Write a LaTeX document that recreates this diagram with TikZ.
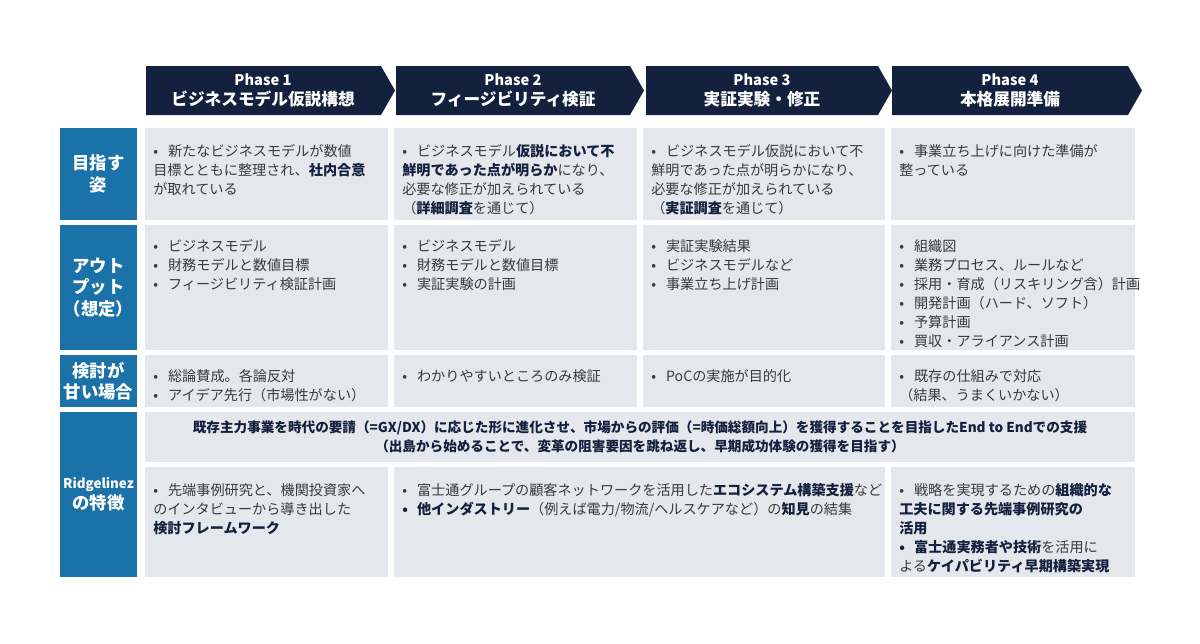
\documentclass[tikz,border=0pt]{standalone}
\usepackage{fontspec}
\setmainfont{Noto Sans CJK JP}
\definecolor{navy}{HTML}{13213F}
\definecolor{lblue}{HTML}{1A72A8}
\definecolor{cellg}{HTML}{E4E7EB}
\definecolor{txtc}{HTML}{3A3A3A}
\newcommand\B[1]{{\bfseries\color{navy}#1}}
\newcommand\itm{\par\noindent\hangindent=1.05em\hangafter=1\makebox[1.05em][l]{•}}
\newcommand\itmb{\par\noindent\hangindent=1.05em\hangafter=1\makebox[1.05em][l]{\color{navy}\textbf{•}}}
\begin{document}
\begin{tikzpicture}[x=0.75pt,y=-0.75pt,
  cellbox/.style={fill=cellg,draw=none},
  lblbox/.style={fill=lblue,draw=none},
  lbl/.style={text=white,font=\bfseries\fontsize{13}{16}\selectfont,align=center},
  txt/.style={anchor=north west,text=txtc,font=\fontsize{10.6}{14.3}\selectfont,text width=270pt,align=left,inner sep=0pt},
  hdr/.style={text=white,font=\bfseries\fontsize{12.5}{15.5}\selectfont,align=center}]
\useasboundingbox (0,0) rectangle (1200,643);
% headers
\foreach \xs/\xe/\xt [count=\i] in {146/381/395,396/630/644,646/878/892,892/1128/1142}{
  \fill[navy] (\xs,66) -- (\xe,66) -- (\xt,90.5) -- (\xe,115) -- (\xs,115) -- cycle;
}
\node[hdr] (h1) at (263,90.5) {{\fontsize{11}{14}\selectfont Phase 1}\\ビジネスモデル仮説構想};
\node[hdr] (h2) at (513,90.5) {{\fontsize{11}{14}\selectfont Phase 2}\\フィージビリティ検証};
\node[hdr] (h3) at (762,90.5) {{\fontsize{11}{14}\selectfont Phase 3}\\実証実験・修正};
\node[hdr] (h4) at (1010,90.5) {{\fontsize{11}{14}\selectfont Phase 4}\\本格展開準備};
% label column
\fill[lblue] (60,128) rectangle (137,220);
\fill[lblue] (60,225) rectangle (137,350);
\fill[lblue] (60,355) rectangle (137,407);
\fill[lblue] (60,412) rectangle (137,577);
\node[lbl] (l1) at (98.5,174) {目指す\\姿};
\node[lbl] (l2) at (98.5,287.5) {アウト\\プット\\（想定）};
\node[lbl] (l3) at (98.5,381) {検討が\\甘い場合};
\node[lbl] (l4) at (98.5,494.5) {{\fontsize{10}{13}\selectfont Ridgelinez}\\の特徴};
% cells
\foreach \ya/\yb in {128/220,225/350,355/407}{
  \foreach \xa/\xb in {145/388,394/637,643/885,891/1135}{
    \fill[cellg] (\xa,\ya) rectangle (\xb,\yb);
  }
}
\fill[cellg] (145,412) rectangle (1135,462);
\fill[cellg] (145,467) rectangle (388,577);
\fill[cellg] (394,467) rectangle (885,577);
\fill[cellg] (891,467) rectangle (1135,577);
% row 1
\node[txt] (a1) at (153,137) {\itm 新たなビジネスモデルが数値\\目標とともに整理され、\B{社内合意}\\が取れている};
\node[txt] (a2) at (402,137) {\itm ビジネスモデル\B{仮説において不}\\\B{鮮明であった点が明らか}になり、\\必要な修正が加えられている\\（\B{詳細調査}を通じて）};
\node[txt] (a3) at (651,137) {\itm ビジネスモデル仮説において不\\鮮明であった点が明らかになり、\\必要な修正が加えられている\\（\B{実証調査}を通じて）};
\node[txt] (a4) at (899,137) {\itm 事業立ち上げに向けた準備が\\整っている};
% row 2
\node[txt] (b1) at (153,232) {\itm ビジネスモデル\itm 財務モデルと数値目標\itm フィージビリティ検証計画};
\node[txt] (b2) at (402,232) {\itm ビジネスモデル\itm 財務モデルと数値目標\itm 実証実験の計画};
\node[txt] (b3) at (651,232) {\itm 実証実験結果\itm ビジネスモデルなど\itm 事業立ち上げ計画};
\node[txt] (b4) at (899,232) {\itm 組織図\itm 業務プロセス、ルールなど\itm 採用・育成（リスキリング含）計画\itm 開発計画（ハード、ソフト）\itm 予算計画\itm 買収・アライアンス計画};
% row 3
\node[txt] (c1) at (153,362) {\itm 総論賛成。各論反対\itm アイデア先行（市場性がない）};
\node[txt] (c2) at (402,362) {\itm わかりやすいところのみ検証};
\node[txt] (c3) at (651,362) {\itm PoCの実施が目的化};
\node[txt] (c4) at (899,362) {\itm 既存の仕組みで対応\\（結果、うまくいかない）};
% row 4
\node[text=navy,font=\bfseries\fontsize{10.2}{14.3}\selectfont,align=center] (d0) at (640,437) {既存主力事業を時代の要請（=GX/DX）に応じた形に進化させ、市場からの評価（=時価総額向上）を獲得することを目指したEnd to Endでの支援\\（出島から始めることで、変革の阻害要因を跳ね返し、早期成功体験の獲得を目指す）};
\node[txt] (d1) at (153,476) {\itm 先端事例研究と、機関投資家へ\\のインタビューから導き出した\\\B{検討フレームワーク}};
\node[txt,text width=480pt] (d2) at (402,476) {\itm 富士通グループの顧客ネットワークを活用した\B{エコシステム構築支援}など\itmb \B{他インダストリー}（例えば電力/物流/ヘルスケアなど）の\B{知見}の結集};
\node[txt] (d4) at (899,476) {\itm 戦略を実現するための\B{組織的な}\\\B{工夫に関する先端事例研究の}\\\B{活用}\itmb \B{富士通実務者や技術}を活用に\\よる\B{ケイパビリティ早期構築実現}};
\end{tikzpicture}
\end{document}
